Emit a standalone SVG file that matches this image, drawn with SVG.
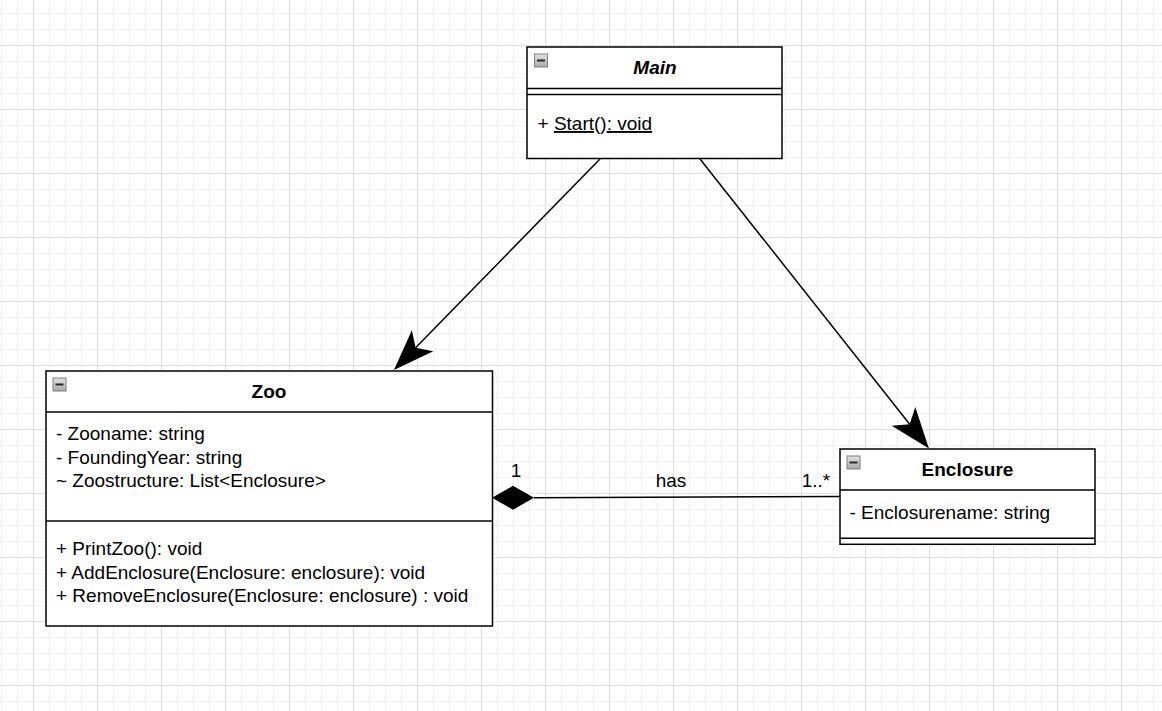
<svg xmlns="http://www.w3.org/2000/svg" width="1162" height="711" viewBox="0 0 1162 711">
<defs>
<pattern id="grid" patternUnits="userSpaceOnUse" x="1" y="13" width="64" height="64">
<rect x="0" y="0" width="64" height="64" fill="#ffffff"/>
<g fill="#f2f2f2">
<rect x="0" y="0" width="1" height="64"/><rect x="16" y="0" width="1" height="64"/><rect x="48" y="0" width="1" height="64"/>
<rect x="0" y="0" width="64" height="1"/><rect x="0" y="16" width="64" height="1"/><rect x="0" y="48" width="64" height="1"/>
</g>
<g fill="#e0e0e0">
<rect x="32" y="0" width="1" height="64"/><rect x="0" y="32" width="64" height="1"/>
</g>
</pattern>
<linearGradient id="iconGrad" x1="0" y1="0" x2="0" y2="1">
<stop offset="0" stop-color="#e4e4e4"/>
<stop offset="1" stop-color="#a9a9a9"/>
</linearGradient>
<marker id="arrow" markerUnits="userSpaceOnUse" markerWidth="60" markerHeight="40" refX="0" refY="0" orient="auto" overflow="visible" viewBox="-15 -20 60 40">
<path d="M31,0 L-10,-15 L0,0 L-10,15 Z" fill="#000"/>
</marker>
<marker id="diamond" markerUnits="userSpaceOnUse" markerWidth="50" markerHeight="30" refX="0" refY="0" orient="auto" overflow="visible" viewBox="-5 -15 50 30">
<path d="M0,0 L21,-12 L42,0 L21,12 Z" fill="#000"/>
</marker>
<g id="minus">
<rect x="0.5" y="0.5" width="13" height="13" fill="url(#iconGrad)" stroke="#7f7f7f" stroke-width="1"/>
<rect x="3" y="6" width="8" height="2" fill="#2a2a2a"/>
</g>
</defs>
<style>
.box{fill:#ffffff;stroke:#000;stroke-width:1.5}
.sep{stroke:#000;stroke-width:1.5;fill:none}
.title{font-family:"Liberation Sans",Arial,sans-serif;font-size:19px;font-weight:bold;text-anchor:middle;fill:#000}
.txt{font-family:"Liberation Sans",Arial,sans-serif;font-size:19px;fill:#000}
.lbl{font-family:"Liberation Sans",Arial,sans-serif;font-size:19px;fill:#000;text-anchor:middle}
.edge{stroke:#000;stroke-width:1.5;fill:none}
</style>
<rect x="0" y="0" width="1162" height="711" fill="url(#grid)"/>

<g id="connectors">
<path class="edge" d="M600,159 L415.6,347.8" marker-end="url(#arrow)"/>
<path class="edge" d="M700,159 L909.7,424.2" marker-end="url(#arrow)"/>
<path class="edge" d="M840,496.5 L534,497.7" marker-end="url(#diamond)"/>
<text class="lbl" x="516" y="476.5">1</text>
<text class="lbl" x="671" y="486.7">has</text>
<text class="lbl" x="816" y="486.5">1..*</text>
</g>

<g id="node-main">
<rect class="box" x="527" y="47" width="255" height="111.5"/>
<line class="sep" x1="527" y1="88.5" x2="782" y2="88.5"/>
<line class="sep" x1="527" y1="94.5" x2="782" y2="94.5"/>
<use href="#minus" x="534" y="53.5"/>
<text class="title" x="655" y="74.3" font-style="italic">Main</text>
<text class="txt" x="537.5" y="130">+ <tspan text-decoration="underline">Start</tspan>()<tspan text-decoration="underline">: void</tspan></text>
</g>

<g id="node-zoo">
<rect class="box" x="46" y="371" width="446.5" height="255"/>
<line class="sep" x1="46" y1="412" x2="492.5" y2="412"/>
<line class="sep" x1="46" y1="521" x2="492.5" y2="521"/>
<use href="#minus" x="52.5" y="377.5"/>
<text class="title" x="269" y="398">Zoo</text>
<text class="txt" x="56" y="440">- Zooname: string</text>
<text class="txt" x="56" y="463.5">- FoundingYear: string</text>
<text class="txt" x="56" y="487">~ Zoostructure: List&lt;Enclosure&gt;</text>
<text class="txt" x="56" y="555">+ PrintZoo(): void</text>
<text class="txt" x="56" y="578.5">+ AddEnclosure(Enclosure: enclosure): void</text>
<text class="txt" x="56" y="602">+ RemoveEnclosure(Enclosure: enclosure) : void</text>
</g>

<g id="node-enclosure">
<rect class="box" x="840" y="449" width="255" height="95.3"/>
<line class="sep" x1="840" y1="490" x2="1095" y2="490"/>
<line class="sep" x1="840" y1="538.3" x2="1095" y2="538.3"/>
<use href="#minus" x="846.5" y="455.5"/>
<text class="title" x="967.5" y="476">Enclosure</text>
<text class="txt" x="849.5" y="519">- Enclosurename: string</text>
</g>
</svg>
